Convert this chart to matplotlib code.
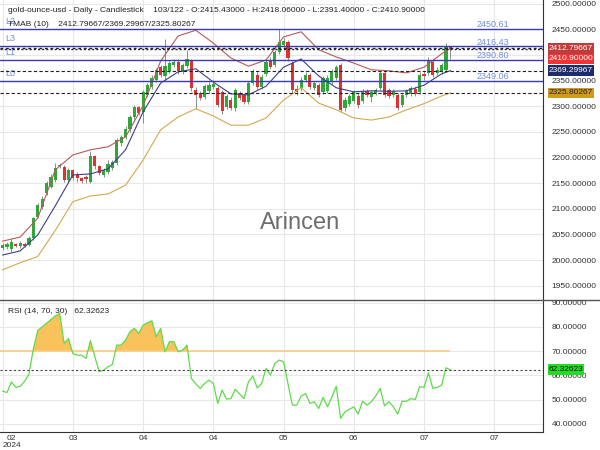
import matplotlib
matplotlib.use('Agg')
import matplotlib.pyplot as plt
import matplotlib.transforms as mtransforms
from matplotlib.patches import Rectangle
from matplotlib.lines import Line2D
import numpy as np

plt.rcParams['font.family'] = ['Liberation Sans', 'DejaVu Sans']

# daily candles
opens = [2024, 2026, 2021, 2031, 2028, 2032, 2030, 2043, 2085, 2103,
         2130, 2143, 2156, 2183, 2182, 2156, 2175, 2168, 2160, 2162,
         2153, 2202, 2183, 2166, 2172, 2179, 2189, 2228, 2240, 2256,
         2279, 2298, 2288, 2322, 2338, 2352, 2376, 2358, 2368, 2380,
         2387, 2366, 2378, 2389, 2332, 2326, 2318, 2330, 2338, 2336,
         2328, 2299, 2312, 2297, 2326, 2322, 2308, 2345, 2361, 2337,
         2362, 2390, 2380, 2406, 2420, 2426, 2384, 2334, 2336, 2352,
         2361, 2336, 2342, 2328, 2330, 2348, 2355, 2380, 2297, 2305,
         2310, 2320, 2310, 2329, 2318, 2325, 2336, 2365, 2331, 2322,
         2322, 2302, 2322, 2324, 2334, 2328, 2362, 2365, 2387, 2365,
         2366, 2371, 2415.43]
highs = [2034, 2036, 2042, 2034, 2037, 2035, 2047, 2085, 2112, 2125,
         2155, 2168, 2190, 2190, 2186, 2180, 2178, 2172, 2163, 2166,
         2212, 2205, 2186, 2180, 2195, 2196, 2238, 2244, 2262, 2283,
         2302, 2301, 2332, 2346, 2360, 2374, 2380, 2431, 2389, 2392,
         2392, 2385, 2410, 2392, 2338, 2330, 2344, 2348, 2352, 2340,
         2332, 2323, 2318, 2336, 2330, 2326, 2349, 2372, 2366, 2362,
         2390, 2395, 2410, 2450, 2432, 2430, 2388, 2342, 2356, 2366,
         2365, 2349, 2346, 2358, 2360, 2372, 2381, 2384, 2318, 2324,
         2332, 2325, 2334, 2333, 2331, 2335, 2369, 2370, 2335, 2334,
         2326, 2326, 2334, 2340, 2338, 2366, 2368, 2395, 2392, 2376,
         2384, 2423, 2418.06]
lows = [2020, 2022, 2015, 2025, 2024, 2025, 2027, 2040, 2082, 2100,
        2127, 2140, 2152, 2180, 2152, 2153, 2157, 2152, 2150, 2150,
        2150, 2178, 2165, 2162, 2168, 2176, 2186, 2222, 2236, 2250,
        2276, 2283, 2267, 2318, 2334, 2348, 2356, 2352, 2364, 2376,
        2362, 2362, 2374, 2330, 2295, 2312, 2314, 2326, 2333, 2298,
        2284, 2295, 2292, 2290, 2312, 2304, 2304, 2342, 2334, 2333,
        2358, 2372, 2376, 2402, 2415, 2388, 2326, 2322, 2330, 2348,
        2334, 2332, 2318, 2324, 2326, 2344, 2352, 2288, 2290, 2300,
        2306, 2297, 2306, 2318, 2308, 2322, 2332, 2318, 2316, 2318,
        2292, 2298, 2318, 2320, 2320, 2324, 2352, 2360, 2356, 2360,
        2362, 2368, 2391.40]
closes = [2030, 2031, 2036, 2028, 2033, 2028, 2043, 2082, 2108, 2120,
          2150, 2163, 2179, 2186, 2156, 2176, 2160, 2161, 2155, 2158,
          2202, 2183, 2169, 2176, 2188, 2192, 2234, 2240, 2256, 2279,
          2298, 2287, 2328, 2341, 2355, 2370, 2360, 2378, 2384, 2386,
          2368, 2381, 2392, 2335, 2322, 2316, 2340, 2342, 2344, 2302,
          2290, 2319, 2297, 2332, 2316, 2308, 2345, 2367, 2338, 2357,
          2386, 2377, 2406, 2425, 2428, 2393, 2331, 2328, 2352, 2361,
          2338, 2345, 2322, 2355, 2355, 2368, 2377, 2293, 2313, 2320,
          2328, 2302, 2330, 2322, 2327, 2331, 2365, 2322, 2320, 2330,
          2296, 2322, 2330, 2335, 2324, 2361, 2358, 2390, 2361, 2371,
          2380, 2415, 2410.90]

# TMAB(10) bands, read every 4th bar
band_idx = [0, 4, 8, 12, 16, 20, 24, 28, 32, 36, 40, 44, 48, 52,
            56, 60, 64, 68, 72, 76, 80, 84, 88, 92, 96, 100, 102]
band_upper = [2037, 2045, 2082, 2176, 2205, 2215, 2221, 2240, 2301, 2388,
              2437, 2448, 2423, 2394, 2378, 2390, 2435, 2445, 2410, 2396,
              2384, 2371, 2369, 2365, 2376, 2402, 2412.80]
band_mid = [2010, 2018, 2049, 2106, 2166, 2168, 2178, 2215, 2289, 2345,
            2367, 2373, 2347, 2324, 2322, 2339, 2376, 2392, 2359, 2336,
            2328, 2330, 2329, 2330, 2341, 2363, 2369.30]
band_lower = [1981, 1995, 2007, 2058, 2114, 2125, 2129, 2146, 2195, 2254,
              2279, 2295, 2281, 2263, 2263, 2277, 2312, 2336, 2306, 2293,
              2277, 2273, 2279, 2293, 2305, 2320, 2325.80]

rsi = [53.5, 52.9, 57.3, 55.0, 55.5, 57.5, 60.5, 71.0, 78.5, 80.0,
       81.5, 83.0, 84.5, 85.6, 73.2, 75.2, 69.0, 68.3, 68.3, 67.0,
       74.3, 67.7, 61.5, 62.1, 63.5, 64.5, 72.5, 72.5, 74.5, 78.0,
       79.4, 77.3, 80.7, 81.7, 82.5, 75.9, 79.4, 69.7, 73.9, 73.9,
       69.7, 70.4, 72.5, 58.7, 56.5, 54.6, 56.6, 58.0, 56.6, 48.4,
       53.9, 50.2, 50.4, 54.2, 52.3, 50.4, 57.3, 59.7, 54.8, 56.6,
       62.8, 60.1, 64.9, 66.3, 65.6, 56.6, 47.7, 47.7, 51.4, 52.5,
       48.4, 49.1, 46.3, 50.9, 47.0, 51.0, 55.5, 42.2, 44.9, 46.0,
       47.0, 44.0, 49.3, 47.7, 49.1, 51.5, 54.6, 47.4, 49.1, 47.0,
       44.0, 49.3, 49.3, 50.4, 50.0, 55.3, 55.0, 61.0, 54.6, 55.0,
       56.0, 63.1, 62.33]

level_names = ['L2', 'L3', 'L1', 'L0']
level_values = [2450.61, 2416.43, 2390.80, 2349.06]
tmab_last = [2412.79667, 2369.29967, 2325.80267]
last_close = 2410.90
rsi_last = 62.32623

date_ticks = [0, 16, 32, 48, 64, 80, 96, 112]
date_labels = ['02\n2024', '03', '04', '04', '05', '06', '07', '07']
price_ticks = list(range(1950, 2501, 50))
rsi_ticks = [40, 50, 60, 70, 80, 90]

W, H = 600, 450
fig = plt.figure(figsize=(6, 4.5), dpi=100)
ax = fig.add_axes([0, 150 / H, 543 / W, 300 / H])
rx = fig.add_axes([0, 18 / H, 543 / W, 132 / H])

x = np.arange(len(closes))
for a in (ax, rx):
    a.set_xlim(-0.6, 123.1)
    a.spines['left'].set_visible(False)
    a.spines['top'].set_visible(False)
    a.spines['right'].set_color('#333333')
    a.spines['bottom'].set_color('#333333')
    a.yaxis.tick_right()
    a.set_xticks(date_ticks)
    a.grid(True, color='#e8e8e8', lw=0.8)
    a.set_axisbelow(True)
    a.tick_params(length=0, labelsize=6, colors='#333333')
    a.tick_params(axis='y', pad=6)
    a.tick_params(axis='x', pad=2)

ax.spines['bottom'].set_visible(False)
ax.tick_params(axis='x', labelbottom=False)
ax.set_ylim(1922.3, 2507)
ax.set_yticks(price_ticks)
# the 2400 label sits under the value boxes in the reference
ax.set_yticklabels(['' if v == 2400 else '%.5f' % v for v in price_ticks])

# candles
o, h, l, c = map(np.array, (opens, highs, lows, closes))
cols = np.where(c >= o, '#2fa83a', '#e2302e')
ax.vlines(x, l, h, color='#8c8c8c', lw=0.7, zorder=2)
ax.bar(x, np.maximum(np.abs(c - o), 0.8), width=0.72, bottom=np.minimum(o, c),
       color=cols, zorder=3)

# bands
ax.plot(band_idx, band_upper, color='#b9595b', lw=0.8, zorder=4)
ax.plot(band_idx, band_mid, color='#3b3f8c', lw=0.8, zorder=4)
ax.plot(band_idx, band_lower, color='#d3a852', lw=0.8, zorder=4)

# levels
for name, v in zip(level_names, level_values):
    ax.axhline(v, color='#3a3ab2', lw=1.0, zorder=4)
    ax.annotate(name, xy=(0, v), xycoords=('axes fraction', 'data'),
                xytext=(4, 5.4), textcoords='offset points', fontsize=6.5,
                color='#6f8de0', va='center', ha='left')
    ax.annotate('%.2f' % v, xy=(493 / 543, v), xycoords=('axes fraction', 'data'),
                xytext=(0, 3.1), textcoords='offset points', fontsize=6.5,
                color='#6f8de0', va='center', ha='center')

ax.axhline(tmab_last[0], color='#222222', lw=1.0, ls=(0, (2, 2)), zorder=4)
ax.axhline(last_close, color='#222222', lw=1.0, ls=(0, (1.5, 1.5)), zorder=4)
ax.axhline(tmab_last[1], color='#222222', lw=0.8, ls=(0, (3, 2)), zorder=4)
ax.axhline(tmab_last[2], color='#222222', lw=0.8, ls=(0, (3, 2)), zorder=4)

# rsi panel
rsi_a = np.array(rsi)
rx.set_ylim(36.6, 91.1)
rx.set_yticks(rsi_ticks)
rx.set_yticklabels(['%.5f' % v for v in rsi_ticks])
rx.set_xticklabels(date_labels)
rx.fill_between(x, rsi_a, 70, where=rsi_a >= 70, interpolate=True,
                color='#f9c25a', lw=0, zorder=2)
rx.hlines(70, -0.6, x[-1], color='#f6cd86', lw=1.2, zorder=2)
rx.plot(x, rsi_a, color='#5ddc4a', lw=0.9, zorder=3)
rx.axhline(rsi_last, color='#444444', lw=0.8, ls=(0, (2, 2)), zorder=3)

lab0 = rx.get_xticklabels()[0]
lab0.set_linespacing(0.95)
lab0.set_transform(lab0.get_transform() +
                   mtransforms.ScaledTranslation(9 / 100, 0, fig.dpi_scale_trans))

# separator between panels
fig.add_artist(Line2D([0, 1], [150 / H, 150 / H], transform=fig.transFigure,
                      color='#555555', lw=1.0))

# header texts
fig.text(8 / W, 1 - 11 / H,
         'gold-ounce-usd - Daily - Candlestick    103/122 - O:2415.43000 - '
         'H:2418.06000 - L:2391.40000 - C:2410.90000',
         fontsize=6, color='#222222', va='center')
fig.text(8 / W, 1 - 25 / H,
         'TMAB (10)    %.5f/%.5f/%.5f' % tuple(tmab_last),
         fontsize=6, color='#222222', va='center')
fig.text(8 / W, 1 - 311.5 / H, 'RSI (14, 70, 30)   %.5f' % rsi_last,
         fontsize=6, color='#222222', va='center')
fig.text(300 / W, 1 - 223 / H, 'Arincen', fontsize=17, color='#6e6e6e',
         ha='center', va='center')


# value boxes on the price axis
def ypix(axis, v):
    return H - axis.transData.transform((0, v))[1]


def value_box(yc, label, face, tcolor, width=46):
    fig.patches.append(Rectangle((548 / W, 1 - (yc + 5.2) / H), width / W, 10.4 / H,
                                 transform=fig.transFigure, facecolor=face,
                                 edgecolor='none', zorder=5))
    fig.text(549 / W, 1 - yc / H, label, fontsize=6, color=tcolor,
             va='center', ha='left', zorder=6)


boxes = [(tmab_last[0], '#c23b3b', 'white'),
         (last_close, '#ee3434', 'white'),
         (tmab_last[1], '#1f2c6c', 'white'),
         (tmab_last[2], '#cf9a1e', '#222222')]
prev = -100
for v, face, tc in boxes:
    yc = max(ypix(ax, v), prev + 10.6)
    value_box(yc, '%.5f' % v, face, tc)
    prev = yc

value_box(ypix(rx, rsi_last), '%.5f' % rsi_last, '#22dd22', '#111111', width=36)

fig.savefig('out.png', dpi=100)
